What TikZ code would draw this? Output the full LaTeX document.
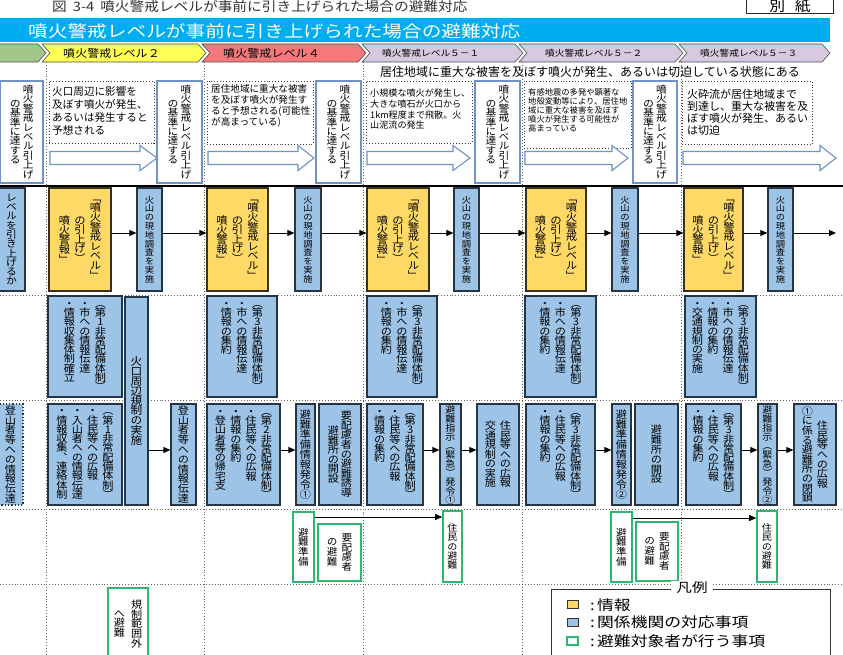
\documentclass[tikz,border=0pt]{standalone}
\usepackage{fontspec}
\setmainfont{Noto Sans CJK JP}
\newfontfamily\jpw[FakeStretch=1.2]{Noto Sans CJK JP}
\newfontfamily\jpm[FakeStretch=1.13]{Noto Sans CJK JP}
\newfontfamily\vjp[RawFeature=+vert,FakeStretch=1.08]{Noto Sans CJK JP}
\usetikzlibrary{arrows.meta}
\definecolor{bannerc}{HTML}{00AEEF}
\definecolor{chg}{HTML}{A3C68B}
\definecolor{chy}{HTML}{FFFF55}
\definecolor{chr}{HTML}{F7787A}
\definecolor{chl}{HTML}{D7C9DF}
\definecolor{aboxc}{HTML}{6F93C6}
\definecolor{yboxc}{HTML}{FFD966}
\definecolor{yboxd}{HTML}{3A3020}
\definecolor{bboxc}{HTML}{9DC3E6}
\definecolor{bboxd}{HTML}{253545}
\definecolor{gboxc}{HTML}{2EB86E}
\newcommand\setfs[2]{\fontsize{#1}{#2}\selectfont}

\ExplSyntaxOn
\dim_new:N \l__vt_pitch_dim
\dim_new:N \l__vt_gap_dim
\seq_new:N \l__vt_cols_seq
\cs_new_protected:Npn \__vt_inner:n #1
  {
    \skip_set:Nn \baselineskip { \l__vt_pitch_dim }
    \dim_set:Nn \lineskiplimit { -\maxdimen }
    \skip_set:Nn \lineskip { 0pt }
    \tl_map_inline:nn {#1} { \hbox_to_wd:nn { 1em } { \hss ##1 \hss } }
  }
\NewDocumentCommand \vtext { O{c} m m m }
  {
    \dim_set:Nn \l__vt_pitch_dim {#2}
    \dim_set:Nn \l__vt_gap_dim {#3}
    \seq_set_split:Nnn \l__vt_cols_seq { | } {#4}
    \seq_reverse:N \l__vt_cols_seq
    \hbox:n
      {
        \seq_map_indexed_inline:Nn \l__vt_cols_seq
          {
            \int_compare:nNnT {##1} > {1} { \skip_horizontal:n { \l__vt_gap_dim } }
            \str_if_eq:nnTF {#1} {t}
              { \vbox_top:n { \__vt_inner:n {##2} } }
              { \ensuremath { \vcenter { \__vt_inner:n {##2} } } }
          }
      }
  }
\ExplSyntaxOff

\tikzset{
  abox/.style={draw=aboxc, line width=1.1pt, fill=white, inner sep=0pt},
  ybox/.style={draw=yboxd, line width=1.2pt, fill=yboxc, inner sep=0pt},
  bbox/.style={draw=bboxd, line width=1.3pt, fill=bboxc, inner sep=0pt},
  gbox/.style={draw=gboxc, line width=1.6pt, fill=white, inner sep=0pt},
  dotbox/.style={draw=black!75, dotted, line width=0.9pt, inner sep=0pt},
  sepline/.style={draw=black!60, dotted, line width=0.9pt},
  arr/.style={line width=0.8pt, -{Triangle[length=7pt,width=6pt]}},
  harr/.style={draw=aboxc, line width=1.1pt, fill=white},
  chev/.style={draw=black!70, line width=0.6pt},
  txt/.style={inner sep=0pt},
}
\newcommand\bx[7]{\node[#1, minimum width={(#4)-(#3)}, minimum height={(#6)-(#5)}] (#2) at ({((#3)+(#4))/2},{((#5)+(#6))/2}) {#7};}
\newcommand\chev[3]{\draw[chev, fill=#1] (#2,44) -- (#3,44) -- ({#3+8},53) -- (#3,62) -- (#2,62) -- ({#2+8},53) -- cycle;}
\newcommand\harrow[3]{\draw[harr] (#1,151.5) -- (#2,151.5) -- (#2,145.5) -- (#3,158) -- (#2,170.5) -- (#2,164.5) -- (#1,164.5) -- cycle;}

\begin{document}
\begin{tikzpicture}[x=1pt,y=-1pt]
\useasboundingbox (0,0) rectangle (843,655);
\fill[white] (0,0) rectangle (843,655);

% title
\node[txt, anchor=base west, text=black!80, font=\jpm\setfs{13}{13}] (title) at (52,12) {図\hspace{6pt}3-4\hspace{6pt}噴火警戒レベルが事前に引き上げられた場合の避難対応};
\node[draw=black!85, line width=1pt, minimum width=87, minimum height=18, anchor=south west, inner sep=0pt] (bessi) at (746,14) {};
\node[txt, anchor=base, font=\jpm\setfs{14}{14}] (bessit) at (790,12) {別\hspace{0.7em}紙};

% banner
\node[fill=bannerc, minimum width=830, minimum height=24, anchor=north west, inner sep=0pt] (banner) at (0,18) {};
\node[txt, anchor=base west, text=white, font=\jpw\setfs{16.4}{16.4}] (bannert) at (28,37.5) {噴火警戒レベルが事前に引き上げられた場合の避難対応};

% chevrons
\chev{chg}{-12}{38}
\chev{chy}{42}{198}
\chev{chr}{202}{358}
\chev{chl}{362}{515}
\chev{chl}{519}{675}
\chev{chl}{679}{822}
\node[txt, anchor=base west, font=\jpm\setfs{10.7}{10.7}] (ch2) at (63,57.2) {噴火警戒レベル２};
\node[txt, anchor=base west, font=\jpm\setfs{10.7}{10.7}] (ch4) at (223,57.2) {噴火警戒レベル４};
\node[txt, anchor=base west, font=\jpm\setfs{8.6}{8.6}] (ch51) at (382,56.3) {噴火警戒レベル５－１};
\node[txt, anchor=base west, font=\jpm\setfs{8.6}{8.6}] (ch52) at (545,56.3) {噴火警戒レベル５－２};
\node[txt, anchor=base west, font=\jpm\setfs{8.6}{8.6}] (ch53) at (700,56.3) {噴火警戒レベル５－３};

\node[txt, anchor=base west, font=\setfs{12}{12}] (state) at (380,76.6) {居住地域に重大な被害を及ぼす噴火が発生、あるいは切迫している状態にある};

% separators
\foreach \x in {46,204,363,522,681} \draw[sepline] (\x,62) -- (\x,655);
\foreach \y in {295,400,509,584} \draw[sepline] (0,\y) -- (843,\y);
\draw[line width=1.6pt] (0,186) -- (843,186);

% row A
\bx{abox, font=\vjp\setfs{10}{10}}{a0}{0.5}{43}{81}{183}{\vtext{9.4pt}{3pt}{噴火警戒レベル引上げ|の基準に達する}}
\bx{abox, font=\vjp\setfs{10}{10}}{a1}{157}{202}{81}{183}{\vtext{9.4pt}{3pt}{噴火警戒レベル引上げ|の基準に達する}}
\bx{abox, font=\vjp\setfs{10}{10}}{a2}{316}{361}{81}{183}{\vtext{9.4pt}{3pt}{噴火警戒レベル引上げ|の基準に達する}}
\bx{abox, font=\vjp\setfs{10}{10}}{a3}{475}{520}{81}{183}{\vtext{9.4pt}{3pt}{噴火警戒レベル引上げ|の基準に達する}}
\bx{abox, font=\vjp\setfs{10}{10}}{a4}{633}{677}{81}{183}{\vtext{9.4pt}{3pt}{噴火警戒レベル引上げ|の基準に達する}}

\bx{dotbox}{t1}{49}{154}{81}{143}{}
\bx{dotbox}{t2}{207}{313}{81}{144}{}
\bx{dotbox}{t3}{366}{472}{81}{143}{}
\bx{dotbox}{t4}{524}{631}{81}{148}{}
\bx{dotbox}{t5}{682}{812}{81}{144}{}
\node[txt, anchor=north west, align=left, font=\setfs{10.6}{13}] (tt1) at (52,86.7) {火口周辺に影響を\\及ぼす噴火が発生、\\あるいは発生すると\\予想される};
\node[txt, anchor=north west, align=left, font=\setfs{9.6}{11}] (tt2) at (211,84.5) {居住地域に重大な被害\\を及ぼす噴火が発生す\\ると予想される(可能性\\が高まっている)};
\node[txt, anchor=north west, align=left, font=\setfs{9.1}{10.7}] (tt3) at (370,89) {小規模な噴火が発生し、\\大きな噴石が火口から\\1km程度まで飛散。火\\山泥流の発生};
\node[txt, anchor=north west, align=left, font=\setfs{8.3}{9}] (tt4) at (528,88.5) {有感地震の多発や顕著な\\地殻変動等により、居住地\\域に重大な被害を及ぼす\\噴火が発生する可能性が\\高まっている};
\node[txt, anchor=north west, align=left, font=\setfs{11}{12}] (tt5) at (687,88.5) {火砕流が居住地域まで\\到達し、重大な被害を及\\ぼす噴火が発生、あるい\\は切迫};

\harrow{50}{140}{157}
\harrow{208}{298}{314}
\harrow{367}{453}{470}
\harrow{525}{612}{628}
\harrow{683}{820}{836}

% row B
\bx{bbox, font=\vjp\setfs{10}{10}}{b0}{-2}{25}{188}{291}{\vtext{9.3pt}{0pt}{レベルを引き上げるか}}
\bx{ybox, font=\vjp\setfs{10.5}{10.5}}{y1}{49}{111}{188}{291}{\vtext{9.6pt}{5pt}{「噴火警戒レベル」|の引上げ）|噴火警報」}}
\bx{bbox, font=\vjp\setfs{8.6}{8.6}}{k1}{137}{162}{188}{291}{\vtext{8.8pt}{0pt}{火山の現地調査を実施}}
\bx{ybox, font=\vjp\setfs{10.5}{10.5}}{y2}{207}{268}{188}{291}{\vtext{9.6pt}{5pt}{「噴火警戒レベル」|の引上げ）|噴火警報」}}
\bx{bbox, font=\vjp\setfs{8.6}{8.6}}{k2}{295}{321}{188}{291}{\vtext{8.8pt}{0pt}{火山の現地調査を実施}}
\bx{ybox, font=\vjp\setfs{10.5}{10.5}}{y3}{367}{429}{188}{291}{\vtext{9.6pt}{5pt}{「噴火警戒レベル」|の引上げ）|噴火警報」}}
\bx{bbox, font=\vjp\setfs{8.6}{8.6}}{k3}{454}{479}{188}{291}{\vtext{8.8pt}{0pt}{火山の現地調査を実施}}
\bx{ybox, font=\vjp\setfs{10.5}{10.5}}{y4}{526}{586}{188}{291}{\vtext{9.6pt}{5pt}{「噴火警戒レベル」|の引上げ）|噴火警報」}}
\bx{bbox, font=\vjp\setfs{8.6}{8.6}}{k4}{612}{638}{188}{291}{\vtext{8.8pt}{0pt}{火山の現地調査を実施}}
\bx{ybox, font=\vjp\setfs{10.5}{10.5}}{y5}{684}{743}{188}{291}{\vtext{9.6pt}{5pt}{「噴火警戒レベル」|の引上げ）|噴火警報」}}
\bx{bbox, font=\vjp\setfs{8.6}{8.6}}{k5}{768}{793}{188}{291}{\vtext{8.8pt}{0pt}{火山の現地調査を実施}}
\foreach \a/\b in {y1/k1,k1/y2,y2/k2,k2/y3,y3/k3,k3/y4,y4/k4,k4/y5,y5/k5}
  \draw[arr] ([yshift=6.5pt]\a.east) -- ([yshift=6.5pt]\b.west);
\coordinate (bend) at (836,233);
\draw[arr] ([yshift=6.5pt]k5.east) -- (bend);

% row C
\bx{bbox, font=\vjp\setfs{10.3}{10.3}}{c1}{48}{122}{296}{397}{\vtext[t]{9.3pt}{5.2pt}{（第1非常配備体制）|・市への情報伝達|・情報収集体制確立}}
\bx{bbox, font=\vjp\setfs{10.8}{10.8}}{kk}{125}{148}{297}{505}{\vtext{9.9pt}{0pt}{火口周辺規制の実施}}
\bx{bbox, font=\vjp\setfs{10.3}{10.3}}{c2}{207}{277}{296}{397}{\vtext[t]{9.3pt}{5.2pt}{（第3非常配備体制）|・市への情報伝達|・情報の集約}}
\bx{bbox, font=\vjp\setfs{10.3}{10.3}}{c3}{367}{437}{296}{397}{\vtext[t]{9.3pt}{5.2pt}{（第3非常配備体制）|・市への情報伝達|・情報の集約}}
\bx{bbox, font=\vjp\setfs{10.3}{10.3}}{c4}{525}{596}{296}{397}{\vtext[t]{9.3pt}{5.2pt}{（第3非常配備体制）|・市への情報伝達|・情報の集約}}
\bx{bbox, font=\vjp\setfs{10.3}{10.3}}{c5}{685}{756}{296}{397}{\vtext[t]{9.3pt}{5pt}{（第3非常配備体制）|・市への情報伝達|・情報の集約|・交通規制の実施}}

% row D
\bx{bbox, dotted, font=\vjp\setfs{10.3}{10.3}}{d0}{-2}{23}{404}{505}{\vtext{9.8pt}{0pt}{登山者等への情報伝達}}
\bx{bbox, font=\vjp\setfs{10.3}{10.3}}{d1}{48}{122}{404}{505}{\vtext[t]{9.3pt}{5pt}{（第1非常配備体制）|・住民等への広報|・入山者への情報伝達|・情報収集、連絡体制}}
\bx{bbox, font=\vjp\setfs{10.3}{10.3}}{dt1}{171}{196}{404}{505}{\vtext{9.8pt}{0pt}{登山者等への情報伝達}}
\bx{bbox, font=\vjp\setfs{10.3}{10.3}}{d2}{207}{280}{404}{505}{\vtext[t]{9.3pt}{5pt}{（第2非常配備体制）|・住民等への広報|・情報の集約|・登山者等の帰宅支}}
\bx{bbox, font=\vjp\setfs{10.3}{10.3}}{ev1}{296}{315}{404}{505}{\vtext{10pt}{0pt}{避難準備情報発令①}}
\bx{bbox, font=\vjp\setfs{10.3}{10.3}}{ds1}{319}{361}{404}{505}{\vtext{9.6pt}{2.7pt}{要配慮者の避難誘導|避難所の開設}}
\bx{bbox, font=\vjp\setfs{10.3}{10.3}}{d3}{367}{423}{404}{505}{\vtext[t]{9.3pt}{5pt}{（第3非常配備体制）|・住民等への広報|・情報の集約}}
\bx{bbox, font=\vjp\setfs{9.3}{9.3}}{ij1}{440}{461}{404}{505}{\vtext{9pt}{0pt}{避難指示（緊急）発令①}}
\bx{bbox, font=\vjp\setfs{10.3}{10.3}}{kh1}{477}{519}{404}{505}{\vtext{9.5pt}{4.7pt}{住民等への広報|交通規制の実施}}
\bx{bbox, font=\vjp\setfs{10.3}{10.3}}{d4}{526}{595}{404}{505}{\vtext[t]{9.3pt}{5pt}{（第3非常配備体制）|・住民等への広報|・情報の集約}}
\bx{bbox, font=\vjp\setfs{10.3}{10.3}}{ev2}{612}{631}{404}{505}{\vtext{10pt}{0pt}{避難準備情報発令②}}
\bx{bbox, font=\vjp\setfs{10.3}{10.3}}{ds2}{635}{678}{404}{505}{\vtext{9.8pt}{0pt}{避難所の開設}}
\bx{bbox, font=\vjp\setfs{10.3}{10.3}}{d5}{686}{741}{404}{505}{\vtext[t]{9.3pt}{5pt}{（第3非常配備体制）|・住民等への広報|・情報の集約}}
\bx{bbox, font=\vjp\setfs{9.3}{9.3}}{ij2}{758}{777}{404}{505}{\vtext{9pt}{0pt}{避難指示（緊急）発令②}}
\bx{bbox, font=\vjp\setfs{10.3}{10.3}}{kh2}{794}{836}{404}{505}{\vtext{9.6pt}{4.7pt}{住民等への広報|①に係る避難所の閉鎖}}
\coordinate (p1) at ([yshift=4.5pt]dt1.west);
\draw[arr] (kk.east |- p1) -- (p1);
\foreach \a/\b in {d2/ev1,d3/ij1,ij1/kh1,d4/ev2,d5/ij2,ij2/kh2}
  \draw[arr] ([yshift=4.5pt]\a.east) -- ([yshift=4.5pt]\b.west);

% row E
\bx{gbox, font=\vjp\setfs{9.8}{9.8}}{g1}{293}{314}{512}{582}{\vtext{9.7pt}{0pt}{避難準備}}
\bx{gbox, font=\vjp\setfs{9.8}{9.8}}{g2}{318}{361}{524}{581}{\vtext{9.7pt}{5pt}{要配慮者|の避難}}
\bx{gbox, font=\vjp\setfs{9.3}{9.3}}{g3}{443}{462}{511}{582}{\vtext{9.3pt}{0pt}{住民の避難}}
\bx{gbox, font=\vjp\setfs{9.8}{9.8}}{g4}{611}{632}{512}{582}{\vtext{9.7pt}{0pt}{避難準備}}
\bx{gbox, font=\vjp\setfs{9.8}{9.8}}{g5}{636}{678}{522}{581}{\vtext{9.7pt}{5pt}{要配慮者|の避難}}
\bx{gbox, font=\vjp\setfs{9.3}{9.3}}{g6}{757}{777}{511}{582}{\vtext{9.3pt}{0pt}{住民の避難}}
\coordinate (e1) at ([yshift=30pt]g1.east);
\draw[arr] (e1) -- (e1 -| g3.west);
\coordinate (e2) at ([yshift=29pt]g4.east);
\draw[arr] (e2) -- (e2 -| g6.west);

% row F
\bx{gbox, font=\vjp\setfs{10.3}{10.3}}{g7}{108}{148}{588}{660}{\vtext{9.75pt}{7pt}{規制範囲外|へ避難}}

% legend
\node[draw=black!80, line width=1.1pt, fill=white, minimum width=279, minimum height=80, anchor=north west, inner sep=0pt] (leg) at (551,589) {};
\node[fill=white, inner xsep=5pt, inner ysep=1pt, font=\jpw\setfs{13}{13}] (legt) at (692,588) {凡例};
\node[fill=yboxc, draw=black!80, line width=0.8pt, minimum width=11, minimum height=8, inner sep=0pt] (ls1) at (572.5,604) {};
\node[fill=bboxc, draw=black!80, line width=0.8pt, minimum width=11, minimum height=8, inner sep=0pt] (ls2) at (572.5,622) {};
\node[fill=white, draw=gboxc, line width=1.2pt, minimum width=11, minimum height=8, inner sep=0pt] (ls3) at (572.5,641) {};
\node[txt, anchor=base west, font=\jpw\setfs{14}{14}] (lt1) at (590,610.3) {:\,情報};
\node[txt, anchor=base west, font=\jpw\setfs{14}{14}] (lt2) at (590,627.3) {:\,関係機関の対応事項};
\node[txt, anchor=base west, font=\jpw\setfs{14}{14}] (lt3) at (590,646.3) {:\,避難対象者が行う事項};
\end{tikzpicture}
\end{document}
